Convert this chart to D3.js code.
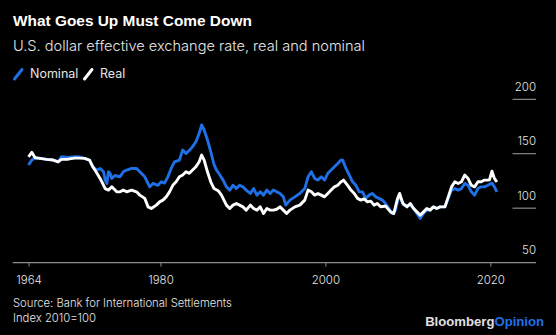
<!DOCTYPE html>
<html><head><meta charset="utf-8">
<script src="https://cdn.jsdelivr.net/npm/d3@7"></script>
<style>html,body{margin:0;padding:0;background:#000;} svg{display:block;}</style>
</head><body><svg id="chart" width="556" height="335"></svg>
<script>
// ---- Data ----
const nominalYears = [1964.0,1964.4,1964.8,1965.4,1966.2,1967.0,1967.6,1968.0,1968.8,1969.6,1970.2,1970.8,1971.4,1971.8,1972.3,1972.7,1973.1,1973.3,1973.5,1973.7,1973.9,1974.1,1974.5,1975.1,1975.5,1975.9,1976.5,1977.1,1977.5,1978.1,1978.7,1979.1,1979.7,1980.1,1980.5,1980.9,1981.3,1981.7,1982.3,1982.7,1983.1,1983.5,1983.9,1984.3,1984.7,1985.0,1985.3,1985.7,1986.1,1986.5,1986.8,1987.2,1987.6,1988.0,1988.4,1988.8,1989.2,1989.6,1990.0,1990.4,1990.9,1991.3,1991.7,1992.1,1992.5,1992.9,1993.3,1993.7,1994.1,1994.5,1994.9,1995.2,1995.7,1996.3,1996.9,1997.5,1997.9,1998.3,1998.7,1999.1,1999.5,1999.9,2000.3,2000.7,2001.1,2001.5,2001.9,2002.1,2002.5,2002.9,2003.3,2003.7,2004.1,2004.5,2004.9,2005.3,2005.7,2006.1,2006.5,2006.9,2007.3,2007.7,2008.1,2008.5,2008.9,2009.3,2009.5,2009.9,2010.3,2010.7,2011.1,2011.5,2011.9,2012.3,2012.7,2013.1,2013.5,2013.9,2014.5,2014.9,2015.3,2015.7,2016.1,2016.5,2016.9,2017.3,2017.7,2018.1,2018.5,2018.9,2019.3,2019.7,2020.2,2020.5,2020.8];
const nominalValues = [139.6,144.2,146.3,145.7,144.8,144.2,142.6,147.2,146.5,147.2,147,145.7,144.2,138,135,136.5,133.4,125.8,122.7,133.4,132,127.3,130,128.8,133.4,135,136.5,136.5,133.4,128.8,119.6,122.7,121,124.2,123,128.8,136.5,142.6,144.2,153.4,150.3,153,156.5,161,168.8,176.4,171.8,162.6,152,140,135,130.4,125.8,119.6,116.6,121,118,121,119.6,116.6,113.5,118,112,115,112,116.6,113.5,116.6,115,113.5,110.4,102.8,107.4,110.4,113.5,118,128.8,133.4,127.3,125.8,128.8,125.8,132,135,138,141.1,144.2,144,136.5,130.4,124.2,121,115,115,109,112,113.5,110.4,109,107.4,104.3,99.7,95.1,98.2,112,106,102.8,102.5,102.8,99.7,95.1,90.5,95.1,98.2,98.2,101.2,99.7,101.2,101.2,109,116.6,118,116.6,118,122.7,121,115,112,118,119.6,119.6,121,123,119.6,115];

const realYears = [1964.0,1964.4,1964.8,1965.4,1966.2,1967.0,1967.6,1968.0,1968.8,1969.6,1970.2,1970.8,1971.4,1971.8,1972.3,1972.7,1972.9,1973.3,1973.7,1974.1,1974.7,1975.1,1975.5,1975.9,1976.5,1977.1,1977.5,1978.1,1978.5,1978.9,1979.5,1979.9,1980.3,1980.7,1981.1,1981.5,1981.9,1982.3,1982.7,1983.1,1983.5,1983.9,1984.3,1984.7,1985.0,1985.3,1985.7,1986.1,1986.5,1987.0,1987.4,1988.0,1988.4,1988.8,1989.2,1989.6,1990.0,1990.4,1990.9,1991.3,1991.7,1992.1,1992.5,1992.9,1993.3,1993.7,1994.1,1994.5,1994.9,1995.3,1995.7,1996.3,1996.9,1997.5,1997.9,1998.3,1998.7,1999.1,1999.5,1999.9,2000.3,2000.7,2001.1,2001.5,2001.9,2002.2,2002.7,2003.1,2003.5,2003.9,2004.3,2004.7,2005.1,2005.5,2005.9,2006.3,2006.7,2007.3,2007.9,2008.3,2008.7,2009.0,2009.4,2009.9,2010.3,2010.7,2011.1,2011.5,2011.9,2012.3,2012.7,2013.1,2013.5,2013.9,2014.5,2014.9,2015.3,2015.7,2016.1,2016.5,2016.9,2017.3,2017.7,2018.1,2018.5,2018.9,2019.3,2019.7,2019.9,2020.2,2020.5,2020.8];
const realValues = [147.2,151.3,146.3,145.7,144.8,144.2,142.6,144.8,145,146,146,145.7,144.2,138,132,127,124.2,118,116.6,119.6,115,115,116.6,115,116.6,115,112,109,101.2,99.7,102.8,105.8,107.4,110.4,115,121,124.2,128.8,130.4,133.4,132,135,138,142.6,148.8,144.2,133.4,124.2,118,116,112,102.8,99.7,102.8,104.3,102.8,101.2,98.2,102.8,99.7,98.2,101.2,95.1,99.7,98.2,98.2,99,101.2,98.2,95.1,98.2,101.2,102.8,107.4,116.6,115,112,113.5,112,110.4,113.5,116.6,119.6,121,124.2,125.8,121,116.6,113.5,109,107.4,108.5,105.8,106.5,102.8,104.3,101.2,102,96.6,95.1,107.4,113.5,104.3,101.2,104.3,99.7,96.6,93.6,96.6,99.7,98.2,101.2,99.7,101.2,101.2,110.4,119.6,124.2,122.7,124.2,130.4,127.3,121,119.6,124.2,124.2,125.8,125.8,126,134,127.3,124];

const xTickYears = [1964, 1980, 2000, 2020];
const yTickValues = [50, 100, 150, 200];
const seriesNames = ["Nominal", "Real"];
const titleText = "What Goes Up Must Come Down";
const subtitleText = "U.S. dollar effective exchange rate, real and nominal";
const sourceText = "Source: Bank for International Settlements";
const noteText = "Index 2010=100";

// ---- Styles ----
const BLUE = "#1f70e6";
const WHITE = "#ffffff";
const TEXT = "#e6e6e6";
const AXIS = "#8c8c8c";
const FONT = "Inter, 'Liberation Sans', Arial, sans-serif";

const svg = d3.select("#chart");
svg.append("rect").attr("width", 556).attr("height", 335).attr("fill", "#000");

// fit text to a target width by adjusting font-size
function fit(sel, w) {
  const cur = sel.node().getComputedTextLength();
  const fs = parseFloat(sel.attr("font-size"));
  sel.attr("font-size", (fs * w / cur).toFixed(2));
}

// Title / subtitle
const t = svg.append("text").attr("x", 13).attr("y", 26).attr("font-family", "'Liberation Sans', Arial, sans-serif")
  .attr("font-weight", 700).attr("font-size", 15).attr("fill", "#fff").text(titleText);
fit(t, 239);
const st = svg.append("text").attr("x", 13).attr("y", 51).attr("font-family", FONT)
  .attr("font-weight", 300).attr("font-size", 14).attr("fill", TEXT).text(subtitleText);
fit(st, 352);

// Legend
const legend = svg.append("g");
const legItems = [{name: seriesNames[0], color: BLUE, x: 13}, {name: seriesNames[1], color: WHITE, x: 83}];
legItems.forEach(d => {
  legend.append("line").attr("x1", d.x + 1.5).attr("y1", 79).attr("x2", d.x + 9).attr("y2", 69.5)
    .attr("stroke", d.color).attr("stroke-width", 3).attr("stroke-linecap", "round");
  legend.append("text").attr("x", d.x + 17).attr("y", 78).attr("font-family", FONT).attr("font-weight", 400)
    .attr("font-size", 12.5).attr("fill", TEXT).text(d.name);
});

// Scales
const x = d3.scaleLinear().domain([1964, 2020]).range([28.5, 490.3]);
const y = d3.scaleLinear().domain([50, 200]).range([262.6, 99.3]);

// Y gridline stubs + labels (right side)
const yg = svg.append("g");
yTickValues.forEach(v => {
  if (v !== yTickValues[0]) {
    yg.append("line").attr("x1", 512.5).attr("x2", 536).attr("y1", y(v)).attr("y2", y(v))
      .attr("stroke", "#a0a0a0").attr("stroke-width", 1);
  }
  yg.append("text").attr("x", 536).attr("y", y(v) - 8.3).attr("text-anchor", "end")
    .attr("font-family", FONT).attr("font-weight", 300).attr("font-size", 11.5).attr("fill", TEXT).text(v);
});

// X axis
svg.append("line").attr("x1", 12.7).attr("x2", 536).attr("y1", y(50)).attr("y2", y(50))
  .attr("stroke", AXIS).attr("stroke-width", 1.3);
const xAxis = d3.axisBottom(x).tickValues(xTickYears).tickFormat(d3.format("d")).tickSize(4).tickPadding(9);
const xg = svg.append("g").attr("transform", `translate(0,${y(50)})`).call(xAxis);
xg.select(".domain").remove();
xg.selectAll(".tick line").attr("stroke", AXIS).attr("stroke-width", 1);
xg.selectAll(".tick text").attr("font-family", FONT).attr("font-weight", 300).attr("font-size", 11.5).attr("fill", TEXT);

// Lines
const line = d3.line().x(d => x(d[0])).y(d => y(d[1]));
const nominal = nominalYears.map((yr, i) => [yr, nominalValues[i]]);
const real = realYears.map((yr, i) => [yr, realValues[i]]);
svg.append("path").datum(nominal).attr("d", line).attr("fill", "none").attr("stroke", BLUE)
  .attr("stroke-width", 2.9).attr("stroke-linejoin", "round");
svg.append("path").datum(real).attr("d", line).attr("fill", "none").attr("stroke", WHITE)
  .attr("stroke-width", 2.9).attr("stroke-linejoin", "round");

// Footer
svg.append("text").attr("x", 13).attr("y", 307).attr("font-family", FONT).attr("font-weight", 300)
  .attr("font-size", 11).attr("fill", TEXT).text(sourceText).call(s => fit(s, 219));
svg.append("text").attr("x", 13).attr("y", 322).attr("font-family", FONT).attr("font-weight", 300)
  .attr("font-size", 11).attr("fill", TEXT).text(noteText).call(s => fit(s, 83));

const brand = svg.append("text").attr("x", 544).attr("y", 326).attr("text-anchor", "end")
  .attr("font-family", "'Liberation Sans', Arial, sans-serif").attr("font-weight", 700).attr("font-size", 13);
brand.append("tspan").attr("fill", "#e0e0e0").text("Bloomberg");
brand.append("tspan").attr("fill", BLUE).text("Opinion");
fit(brand, 119);
</script></body></html>
